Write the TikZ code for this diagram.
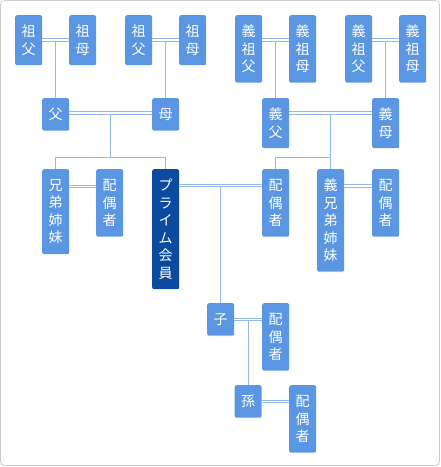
\documentclass[tikz,border=0pt]{standalone}
\usepackage{fontspec}
\usepackage{tikz}
\usetikzlibrary{calc}
\newfontfamily\jpfont{Noto Sans CJK JP}
\definecolor{boxblue}{HTML}{5A96E2}
\definecolor{boxdark}{HTML}{0B4A9E}
\definecolor{linkblue}{HTML}{94B8EA}
\definecolor{framegray}{HTML}{CCCCCC}

\begin{document}
\begin{tikzpicture}[x=1pt,y=-1pt,
	rows/.style={minimum height={15pt+17.5pt*#1}}]
	\tikzstyle{person}=[fill=boxblue,text=white,rounded corners=2pt,minimum width=27pt,inner sep=0pt,align=center,anchor=north west,font=\jpfont\fontsize{14}{17.5}\selectfont]
	\tikzstyle{member}=[person,fill=boxdark]
	\tikzstyle{link}=[draw=linkblue,line width=0.9pt]
	\tikzstyle{marry}=[draw=linkblue,line width=0.8pt,double=white,double distance=1.8pt]

	\useasboundingbox (0,0) rectangle (441,467);
	\draw[framegray,line width=0.8pt,rounded corners=4pt] (0.5,0.5) rectangle (439.5,465.5);

	% grandparents
	\node[person,rows=2] (gfA)  at (15,15)  {祖\\父};
	\node[person,rows=2] (gmA)  at (69,15)  {祖\\母};
	\node[person,rows=2] (gfB)  at (125,15) {祖\\父};
	\node[person,rows=2] (gmB)  at (179,15) {祖\\母};
	\node[person,rows=3] (igfA) at (235,15) {義\\祖\\父};
	\node[person,rows=3] (igmA) at (289,15) {義\\祖\\母};
	\node[person,rows=3] (igfB) at (345,15) {義\\祖\\父};
	\node[person,rows=3] (igmB) at (399,15) {義\\祖\\母};

	% parents
	\node[person,rows=1] (fa)  at (42,98)  {父};
	\node[person,rows=1] (mo)  at (152,98) {母};
	\node[person,rows=2] (ifa) at (262,98) {義\\父};
	\node[person,rows=2] (imo) at (372,98) {義\\母};

	% own generation
	\node[person,rows=4] (sib)    at (42,169)  {兄\\弟\\姉\\妹};
	\node[person,rows=3] (sibsp)  at (96,169)  {配\\偶\\者};
	\node[member,rows=6] (me)     at (152,169) {プ\\ラ\\イ\\ム\\会\\員};
	\node[person,rows=3] (mesp)   at (262,169) {配\\偶\\者};
	\node[person,rows=5] (isib)   at (317,169) {義\\兄\\弟\\姉\\妹};
	\node[person,rows=3] (isibsp) at (372,169) {配\\偶\\者};

	% children
	\node[person,rows=1] (ch)   at (207,303)   {子};
	\node[person,rows=3] (chsp) at (262,303)   {配\\偶\\者};
	\node[person,rows=1] (gc)   at (234.5,385) {孫};
	\node[person,rows=3] (gcsp) at (289,385)   {配\\偶\\者};

	% couples
	\draw[marry] ([yshift=-25pt]gfA.north east)  -- coordinate (uA) ([yshift=-25pt]gmA.north west);
	\draw[marry] ([yshift=-25pt]gfB.north east)  -- coordinate (uB) ([yshift=-25pt]gmB.north west);
	\draw[marry] ([yshift=-25pt]igfA.north east) -- coordinate (uC) ([yshift=-25pt]igmA.north west);
	\draw[marry] ([yshift=-25pt]igfB.north east) -- coordinate (uD) ([yshift=-25pt]igmB.north west);
	\draw[marry] ([yshift=-15pt]fa.north east)   -- coordinate (uF) ([yshift=-15pt]mo.north west);
	\draw[marry] ([yshift=-15pt]ifa.north east)  -- coordinate (uI) ([yshift=-15pt]imo.north west);
	\draw[marry] ([yshift=-17.5pt]sib.north east)  -- ([yshift=-17.5pt]sibsp.north west);
	\draw[marry] ([yshift=-16.5pt]me.north east)   -- coordinate (uM) ([yshift=-16.5pt]mesp.north west);
	\draw[marry] ([yshift=-17pt]isib.north east)   -- ([yshift=-17pt]isibsp.north west);
	\draw[marry] ([yshift=-16.5pt]ch.north east)   -- coordinate (uK) ([yshift=-16.5pt]chsp.north west);
	\draw[marry] ([yshift=-16.5pt]gc.north east)   -- ([yshift=-16.5pt]gcsp.north west);

	% descent
	\coordinate (jF) at ([yshift=12pt]sib.north);
	\draw[link] (uA) ++(0,1.8) -- (fa);
	\draw[link] (uB) ++(0,1.8) -- (mo);
	\draw[link] (uC) ++(0,1.8) -- (ifa);
	\draw[link] (uD) ++(0,1.8) -- (imo);
	\draw[link] (uF) ++(0,1.8) -- (uF |- jF);
	\draw[link] (sib.north) |- (jF -| me.north) -- (me.north);
	\draw[link] (uI) ++(0,1.8) -- (isib);
	\draw[link] (mesp.north) |- (uI |- jF);
	\draw[link] (uM) ++(0,1.8) -- (ch);
	\draw[link] (uK) ++(0,1.8) -- (gc);
\end{tikzpicture}
\end{document}
